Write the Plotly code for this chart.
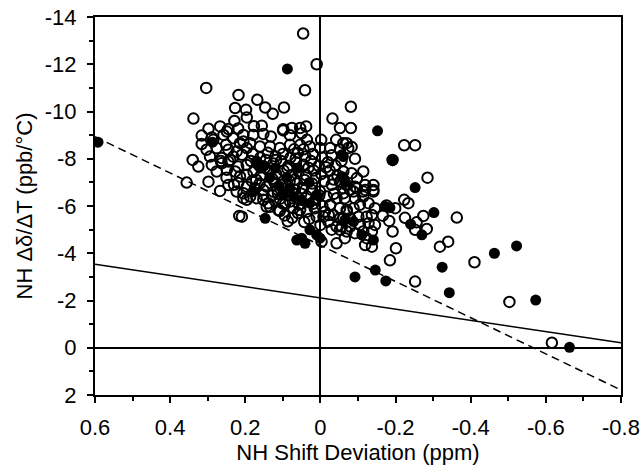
import plotly.graph_objects as go

# Open circles: (x = NH shift deviation ppm, y = NH temperature coefficient ppb/°C)
open_x = [0.046, 0.010, 0.041, 0.304, 0.218, 0.168, 0.227, 0.198, 0.147, 0.127, 0.097, -0.081, -0.032, -0.052, -0.081,
          0.338, 0.196, 0.229, 0.177, 0.156, 0.298, 0.267, 0.245, 0.219, 0.099, 0.076, 0.054, 0.038,
          0.316, 0.289, 0.258, 0.232, 0.205, 0.179, 0.152, 0.132, 0.099, 0.081, 0.050, 0.036, -0.002, -0.042, -0.070, -0.083,
          -0.223, -0.252, -0.061, -0.074, 0.316, 0.251, 0.214, 0.285, 0.249,
          0.303, 0.276, 0.245, 0.223, 0.196, 0.294, 0.263, 0.232, 0.209,
          0.340, 0.325, 0.289, 0.263, 0.245, 0.219, 0.196, 0.276, 0.249, 0.227, 0.214, 0.196,
          0.298, 0.267, 0.245, 0.219, 0.356, 0.223, 0.205,
          0.196, 0.174, 0.152, 0.205, 0.187, 0.170, 0.152, 0.134, 0.108, 0.209, 0.196, 0.143, 0.112, 0.216, 0.143, 0.171,
          0.205, 0.187, 0.161, 0.134, 0.108, 0.081, 0.054, 0.028, 0.001, -0.026, -0.052,
          -0.021, -0.043, -0.052, -0.065, -0.043, -0.012, -0.034, -0.052, -0.026, -0.052, -0.070, -0.017, -0.043, -0.065,
          0.010, 0.036, 0.054, 0.072, 0.081, 0.059, 0.036, 0.014, 0.090, 0.068, 0.046, 0.023, 0.001, -0.003,
          -0.061, -0.079, -0.097, -0.119, -0.141, -0.092, -0.114, -0.070, -0.088, -0.105, -0.128, -0.145, -0.061, -0.079,
          -0.101, -0.123, -0.137, -0.057, -0.079, -0.105, -0.128, -0.145, -0.070, -0.092, -0.114, -0.137, -0.123, -0.119, -0.137,
          -0.061, -0.083, -0.097, -0.052, -0.070, -0.092, -0.119, -0.141, -0.141, -0.114, -0.088, -0.061, -0.114, -0.092,
          -0.285, -0.192, -0.223, -0.234, -0.176, -0.199, -0.363, -0.274, -0.225, -0.256, -0.166, -0.183, -0.192, -0.252,
          -0.283, -0.201, -0.318, -0.340, -0.185, -0.410, -0.252, -0.503, -0.616,
          0.180, 0.160, 0.140, 0.120, 0.100, 0.080, 0.060, 0.040, 0.020, -0.005, -0.030,
          0.185, 0.165, 0.145, 0.125, 0.105, 0.085, 0.065, 0.045, 0.025, 0.005, -0.020, -0.040,
          0.178, 0.158, 0.138, 0.118, 0.098, 0.078, 0.058, 0.038, 0.018, -0.002, -0.025, -0.045,
          0.182, 0.162, 0.122, 0.102, 0.082, 0.062, 0.042, 0.022, -0.010, -0.030,
          0.128, 0.108, 0.115, 0.100, 0.095, 0.075, 0.060, 0.030, 0.015, -0.005, 0.000, -0.030,
          0.250, 0.230, 0.265, 0.240, 0.125, 0.045, 0.070,
          0.148, 0.128, 0.088, 0.068, 0.032, 0.012, -0.015, -0.035, 0.152, 0.113, 0.074, 0.051, 0.003, -0.036,
          0.139, 0.094, 0.057, 0.019, -0.022, 0.087, 0.043, -0.008, -0.056, 0.118, 0.066]
open_y = [-13.3, -12.0, -10.9, -11.0, -10.7, -10.5, -10.15, -10.07, -10.17, -9.9, -10.17, -10.2, -9.7, -9.3, -9.3,
          -9.7, -9.75, -9.6, -9.38, -9.4, -9.27, -9.37, -9.26, -9.28, -9.25, -9.3, -9.3, -9.37,
          -8.98, -8.9, -9.01, -8.87, -9.01, -9.01, -9.05, -8.94, -9.2, -9.0, -9.08, -8.8, -8.8, -8.8, -8.66, -8.5,
          -8.57, -8.57, -8.66, -8.45, -8.62, -8.59, -8.66, -8.8, -9.15,
          -8.38, -8.45, -8.38, -8.31, -8.45, -8.09, -8.03, -8.09, -8.17,
          -7.95, -7.67, -7.74, -7.81, -7.88, -7.67, -7.74, -7.46, -7.53, -7.46, -7.25, -7.32,
          -7.03, -6.64, -6.89, -6.97, -6.99, -6.61, -6.54,
          -6.82, -6.75, -6.68, -6.33, -6.40, -6.33, -6.26, -5.97, -5.79, -5.55, -6.26, -5.97, -5.83, -5.58, -6.82, -7.11,
          -8.73, -8.66, -8.52, -8.52, -8.45, -8.59, -8.59, -8.52, -8.45, -8.45, -8.38,
          -5.34, -5.13, -4.99, -4.64, -4.42, -5.76, -5.62, -5.48, -6.05, -5.91, -5.76, -6.40, -6.33, -6.33,
          -5.55, -5.76, -5.83, -5.91, -6.19, -6.33, -6.40, -6.26, -6.61, -6.68, -6.75, -6.68, -6.61, -4.49,
          -6.75, -6.68, -6.75, -6.68, -6.68, -6.33, -6.40, -5.83, -5.91, -6.05, -6.12, -5.91, -5.48, -5.48,
          -5.55, -5.55, -5.62, -5.13, -5.13, -5.20, -5.27, -5.20, -4.92, -4.85, -4.92, -4.92, -4.64, -4.35, -4.28,
          -7.46, -7.39, -7.18, -7.03, -6.89, -6.82, -6.89, -6.89, -6.61, -6.61, -6.61, -6.54, -7.46, -8.0,
          -7.2, -7.95, -6.26, -6.12, -6.02, -5.91, -5.51, -5.58, -5.5, -5.31, -5.59, -5.37, -4.92, -4.99,
          -5.03, -4.21, -4.28, -4.49, -3.70, -3.62, -2.80, -1.94, -0.21,
          -8.2, -8.05, -8.25, -8.1, -8.2, -8.05, -8.25, -8.1, -8.2, -8.05, -8.15,
          -7.9, -7.75, -7.95, -7.8, -7.9, -7.7, -7.85, -7.75, -7.9, -7.7, -7.85, -7.7,
          -7.45, -7.3, -7.5, -7.35, -7.5, -7.3, -7.45, -7.3, -7.5, -7.35, -7.5, -7.3,
          -7.05, -6.95, -7.0, -6.9, -7.05, -6.95, -7.1, -6.95, -7.05, -6.9,
          -6.45, -6.3, -6.7, -6.1, -5.6, -5.5, -5.7, -5.45, -5.9, -6.0, -5.2, -5.0,
          -7.2, -6.9, -7.9, -7.95, -6.6, -8.4, -8.4,
          -7.62, -7.15, -7.58, -7.12, -7.62, -7.18, -7.64, -7.12, -6.48, -6.52, -6.55, -6.52, -6.45, -6.52,
          -6.12, -6.08, -6.05, -6.1, -5.62, -5.35, -5.32, -5.55, -7.9, -7.95, -8.0]

# Filled circles
filled_x = [0.592, 0.088, -0.152, -0.061, -0.192, -0.252, -0.172, -0.302, -0.185, -0.240, -0.270, -0.522, -0.463,
            -0.324, -0.343, -0.573, -0.663, -0.092, -0.146, -0.174, 0.147, 0.050, 0.063, 0.041, 0.028, 0.010, 0.001,
            -0.065, -0.088, -0.110, -0.141, 0.099, 0.072, 0.050, 0.028, 0.081, 0.010, -0.057, -0.065, -0.057, 0.287,
            0.170, 0.150, 0.160, 0.120, 0.090, 0.060, 0.030, 0.110, 0.135, 0.180]
filled_y = [-8.7, -11.8, -9.18, -8.09, -7.92, -6.78, -5.98, -5.72, -5.93, -5.23, -4.78, -4.31, -4.00,
            -3.41, -2.33, -2.02, -0.02, -3.0, -3.29, -2.83, -5.48, -4.64, -4.56, -4.42, -4.99, -4.78, -4.64,
            -5.41, -5.34, -4.78, -4.56, -6.47, -6.40, -6.26, -6.12, -6.75, -6.47, -7.25, -7.03, -8.17, -8.70,
            -7.9, -7.7, -7.6, -7.6, -7.2, -7.6, -7.0, -6.85, -7.2, -6.6]

# Reference lines (end points)
dashed_x = [0.6, -0.8]
dashed_y = [-8.93, 1.79]
solid_x = [0.6, -0.8]
solid_y = [-3.53, -0.21]

x_ticks = [0.6, 0.4, 0.2, 0, -0.2, -0.4, -0.6, -0.8]
x_tick_labels = ["0.6", "0.4", "0.2", "0", "-0.2", "-0.4", "-0.6", "-0.8"]
y_ticks = [-14, -12, -10, -8, -6, -4, -2, 0, 2]
y_tick_labels = ["-14", "-12", "-10", "-8", "-6", "-4", "-2", "0", "2"]

fig = go.Figure()
fig.add_trace(go.Scatter(x=dashed_x, y=dashed_y, mode="lines",
                         line=dict(color="black", width=1.5, dash="8px,5px"), hoverinfo="skip"))
fig.add_trace(go.Scatter(x=solid_x, y=solid_y, mode="lines",
                         line=dict(color="black", width=1.5), hoverinfo="skip"))
fig.add_trace(go.Scatter(x=open_x, y=open_y, mode="markers",
                         marker=dict(symbol="circle-open", size=10.5, color="black", line=dict(width=2, color="black"))))
fig.add_trace(go.Scatter(x=filled_x, y=filled_y, mode="markers",
                         marker=dict(symbol="circle", size=11, color="black", line=dict(width=0))))

font = "Liberation Sans, Arial, sans-serif"
fig.update_layout(
    width=640, height=465,
    margin=dict(l=95, r=19, t=17, b=70),
    paper_bgcolor="white", plot_bgcolor="white",
    showlegend=False,
    font=dict(family=font, color="black"),
    xaxis=dict(range=[0.6, -0.8], tickvals=x_ticks, ticktext=x_tick_labels, automargin=False,
               showgrid=False, zeroline=True, zerolinecolor="black", zerolinewidth=2,
               showline=True, linecolor="black", linewidth=2, mirror=True,
               ticks="outside", ticklen=6, tickwidth=2, tickcolor="black", ticklabelstandoff=6,
               minor=dict(dtick=0.1, ticks="outside", ticklen=4, tickwidth=1.5, tickcolor="black"),
               tickfont=dict(size=22, family=font),
               title=dict(text="NH Shift Deviation (ppm)", font=dict(size=22, family=font), standoff=0)),
    yaxis=dict(range=[2, -14], tickvals=y_ticks, ticktext=y_tick_labels, automargin=False,
               showgrid=False, zeroline=True, zerolinecolor="black", zerolinewidth=2,
               showline=True, linecolor="black", linewidth=2, mirror=True,
               ticks="outside", ticklen=6, tickwidth=2, tickcolor="black", ticklabelstandoff=6,
               minor=dict(dtick=1, ticks="outside", ticklen=4, tickwidth=1.5, tickcolor="black"),
               tickfont=dict(size=22, family=font),
               title=dict(text="NH \u0394\u03b4/\u0394T (ppb/\u00b0C)", font=dict(size=22, family=font), standoff=6)),
)

fig.write_html("out.html", config={"displayModeBar": False},
               post_script="document.body.style.margin='0';document.body.style.overflow='hidden';")
